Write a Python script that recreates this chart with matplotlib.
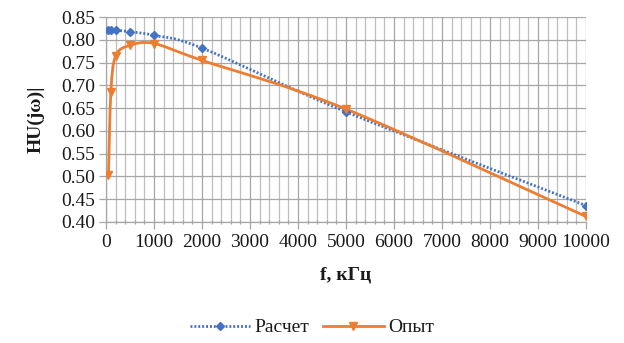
import numpy as np
import matplotlib
matplotlib.use("Agg")
import matplotlib.pyplot as plt
from matplotlib.path import Path
from matplotlib.patches import PathPatch
from matplotlib.lines import Line2D

# Data
f_calc = [50, 100, 200, 500, 1000, 2000, 5000, 10000]
h_calc = [0.821, 0.821, 0.821, 0.818, 0.810, 0.782, 0.642, 0.436]
f_exp = [50, 100, 200, 500, 1000, 2000, 5000, 10000]
h_exp = [0.503, 0.685, 0.765, 0.788, 0.792, 0.755, 0.648, 0.412]
series_names = ["Расчет", "Опыт"]
xticks = [0, 1000, 2000, 3000, 4000, 5000, 6000, 7000, 8000, 9000, 10000]
yticks = [0.40, 0.45, 0.50, 0.55, 0.60, 0.65, 0.70, 0.75, 0.80, 0.85]

BLUE = "#4472C4"
ORANGE = "#ED7D31"
TXT = "#1a1a1a"
FS = 14

plt.rcParams['font.family'] = ['Liberation Serif', 'DejaVu Serif']

fig = plt.figure(figsize=(6.24, 3.43), dpi=100)
ax = fig.add_axes([0.170, 0.353, 0.769, 0.597])


def smooth_path(x, y):
    pts = np.column_stack([x, y]).astype(float)
    n = len(pts)
    verts = [tuple(pts[0])]
    codes = [Path.MOVETO]
    for i in range(n - 1):
        p0 = pts[i - 1] if i > 0 else pts[i]
        p1 = pts[i]
        p2 = pts[i + 1]
        p3 = pts[i + 2] if i + 2 < n else pts[i + 1]
        c1 = p1 + (p2 - p0) / 6.0
        c2 = p2 - (p3 - p1) / 6.0
        verts += [tuple(c1), tuple(c2), tuple(p2)]
        codes += [Path.CURVE4] * 3
    return Path(verts, codes)


ax.add_patch(PathPatch(smooth_path(f_calc, h_calc), fill=False, edgecolor=BLUE,
                       lw=2.0, linestyle=(0, (0.7, 0.7)), zorder=3))
ax.plot(f_calc, h_calc, linestyle='none', marker='D', ms=4.5, color=BLUE, zorder=4)
ax.add_patch(PathPatch(smooth_path(f_exp, h_exp), fill=False, edgecolor=ORANGE,
                       lw=2.0, zorder=3))
ax.plot(f_exp, h_exp, linestyle='none', marker='v', ms=6, color=ORANGE, zorder=4)

ax.set_xlim(0, 10000)
ax.set_ylim(0.40, 0.85)
ax.set_xticks(xticks)
ax.set_xticks(np.arange(0, 10001, 200), minor=True)
ax.set_yticks(yticks)
ax.set_yticklabels([f"{v:.2f}" for v in yticks])
ax.set_xticklabels([str(v) for v in xticks])
ax.grid(True, which='major', axis='both', color='#a6a6a6', lw=0.9)
ax.grid(True, which='minor', axis='x', color='#bfbfbf', lw=0.9)
ax.set_axisbelow(True)
for s in ['top', 'right']:
    ax.spines[s].set_visible(False)
for s in ['left', 'bottom']:
    ax.spines[s].set_color('#a6a6a6')
    ax.spines[s].set_linewidth(0.9)
ax.tick_params(axis='both', which='major', colors='#a6a6a6', labelcolor=TXT,
               labelsize=FS, length=5, width=0.9)
ax.tick_params(axis='y', pad=3)
ax.tick_params(axis='x', which='minor', colors='#a6a6a6', length=3, width=0.9,
               direction='inout')
ax.tick_params(axis='x', pad=4)

ax.set_xlabel("f, кГц", fontsize=FS, fontweight='bold', color=TXT, labelpad=11)
ax.set_ylabel("HU(jω)|", fontsize=FS, fontweight='bold', color=TXT, labelpad=12)

handles = [
    Line2D([], [], color=BLUE, lw=2.0, linestyle=(0, (0.7, 0.7)), marker='D', ms=4.5),
    Line2D([], [], color=ORANGE, lw=2.0, marker='v', ms=6),
]
fig.legend(handles, series_names, loc='center', bbox_to_anchor=(0.5, 0.045), ncol=2,
           frameon=False, fontsize=FS, handlelength=3.1, columnspacing=0.7,
           handletextpad=0.25, labelcolor=TXT)

fig.savefig("out.png", dpi=100)
